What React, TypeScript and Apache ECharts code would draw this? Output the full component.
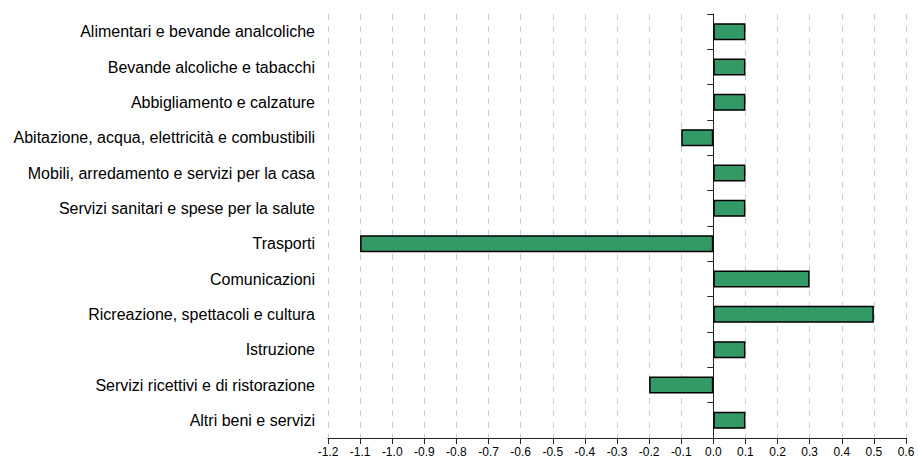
import React, { useEffect, useRef } from "react";
import * as echarts from "echarts";

const categories = [
  "Alimentari e bevande analcoliche",
  "Bevande alcoliche e tabacchi",
  "Abbigliamento e calzature",
  "Abitazione, acqua, elettricità e combustibili",
  "Mobili, arredamento e servizi per la casa",
  "Servizi sanitari e spese per la salute",
  "Trasporti",
  "Comunicazioni",
  "Ricreazione, spettacoli e cultura",
  "Istruzione",
  "Servizi ricettivi e di ristorazione",
  "Altri beni e servizi",
];
const values = [0.1, 0.1, 0.1, -0.1, 0.1, 0.1, -1.1, 0.3, 0.5, 0.1, -0.2, 0.1];
const xMin = -1.2;
const xMax = 0.6;
const xStep = 0.1;

export default function App() {
  const ref = useRef<HTMLDivElement>(null);
  useEffect(() => {
    const chart = echarts.init(ref.current!, null, { renderer: "svg" });
    chart.setOption({
      animation: false,
      grid: { left: 328, right: 12, top: 14, bottom: 25, containLabel: false },
      xAxis: {
        type: "value",
        min: xMin,
        max: xMax,
        interval: xStep,
        axisLine: { show: true, lineStyle: { color: "#222", width: 1 } },
        axisTick: { show: true, length: 6, lineStyle: { color: "#222" } },
        axisLabel: {
          color: "#000",
          fontSize: 12,
          fontFamily: "Liberation Sans, Arial, sans-serif",
          margin: 8,
          formatter: (v: number) => (Math.abs(v) < 1e-9 ? "0.0" : v.toFixed(1)),
        },
        splitLine: { show: true, lineStyle: { color: "#cccccc", type: [6, 6], width: 1 } },
      },
      yAxis: [
        {
          type: "category",
          data: categories,
          inverse: true,
          axisLine: { show: false, onZero: false },
          axisTick: { show: false },
          axisLabel: {
            color: "#000",
            fontSize: 16,
            fontFamily: "Liberation Sans, Arial, sans-serif",
            margin: 13,
          },
        },
        {
          type: "category",
          data: categories,
          inverse: true,
          position: "left",
          axisLine: { show: true, onZero: true, lineStyle: { color: "#222", width: 1 } },
          axisTick: { show: true, length: 6, lineStyle: { color: "#222" } },
          axisLabel: { show: false },
        },
      ],
      series: [
        {
          type: "bar",
          yAxisIndex: 0,
          data: values,
          barWidth: "48%",
          itemStyle: { color: "#339966", borderColor: "#000", borderWidth: 1.5 },
        },
      ],
    });
    return () => chart.dispose();
  }, []);
  return <div ref={ref} style={{ width: 918, height: 463, position: "absolute", left: 0, top: 0 }} />;
}
